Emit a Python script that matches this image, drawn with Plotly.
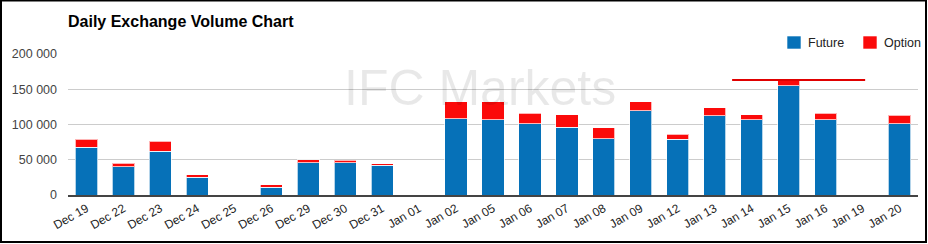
import plotly.graph_objects as go

dates = ["Dec 19", "Dec 22", "Dec 23", "Dec 24", "Dec 25", "Dec 26", "Dec 29", "Dec 30",
         "Dec 31", "Jan 01", "Jan 02", "Jan 05", "Jan 06", "Jan 07", "Jan 08", "Jan 09",
         "Jan 12", "Jan 13", "Jan 14", "Jan 15", "Jan 16", "Jan 19", "Jan 20"]
future = [68000, 40000, 62000, 25000, 0, 11000, 45500, 46000,
          42500, 0, 108500, 106500, 101000, 96000, 79500, 119500,
          79000, 112500, 107000, 155000, 107000, 0, 101000]
option = [11000, 5300, 14500, 3600, 0, 3800, 4600, 3200,
          1900, 0, 23800, 26000, 14700, 17500, 16000, 12800,
          7000, 11000, 7000, 7500, 9000, 0, 12400]
y_ticks = [0, 50000, 100000, 150000, 200000]
series_names = ["Future", "Option"]
series_colors = ["#0671b8", "#fb0a0a"]
marker_line_value = 163000
marker_line_span = [17.47, 21.07]

FONT = "Arial, Liberation Sans, sans-serif"
L, R, T, B = 68, 10, 54, 49
W, H = 928, 244
pw, ph = W - L - R, H - T - B


def px_x(x):
    return (x - L) / pw


def px_y(y):
    return (H - B - y) / ph


fig = go.Figure()
for name, vals, col in zip(series_names, [future, option], series_colors):
    fig.add_trace(go.Bar(x=dates, y=vals, name=name, marker_color=col,
                         marker_line=dict(color="rgba(255,255,255,0.7)", width=1)))

fig.update_layout(
    width=W, height=H, barmode="stack", bargap=0.4,
    margin=dict(l=L, r=R, t=T, b=B),
    paper_bgcolor="white", plot_bgcolor="white",
    separators=". ",
    font=dict(family=FONT, size=12, color="#222"),
    title=dict(text="<b>Daily Exchange Volume Chart</b>", x=L / W, xanchor="left",
               y=1 - 21 / H, yanchor="middle", font=dict(size=16, color="#000")),
    showlegend=False,
    xaxis=dict(type="category", tickangle=-30, showgrid=False, showline=True,
               linecolor="#444", linewidth=2, ticks="", tickfont=dict(size=12, color="#222")),
    yaxis=dict(range=[0, 200000], tickvals=y_ticks, tickformat=",d", showgrid=True,
               gridcolor="#cccccc", gridwidth=1, zeroline=False, ticks="",
               tickfont=dict(size=12.5, color="#444"), ticklabelstandoff=10),
)

# manual legend
legend_sq_x = [787, 863]
for name, col, sx in zip(series_names, series_colors, legend_sq_x):
    fig.add_shape(type="rect", xref="paper", yref="paper",
                  x0=px_x(sx), x1=px_x(sx + 14), y0=px_y(49), y1=px_y(36),
                  fillcolor=col, line=dict(color="rgba(255,255,255,0.6)", width=1))
    fig.add_annotation(text=name, xref="paper", yref="paper", x=px_x(sx + 19), y=px_y(42.5),
                       xanchor="left", yanchor="middle", showarrow=False,
                       font=dict(family=FONT, size=12.5, color="#222"))

fig.add_annotation(text="IFC Markets", xref="paper", yref="paper", x=px_x(480),
                   y=px_y(88), xanchor="center", yanchor="middle", showarrow=False,
                   font=dict(family=FONT, size=50, color="rgba(0,0,0,0.09)"))

fig.add_shape(type="line", xref="x", yref="y", x0=marker_line_span[0], x1=marker_line_span[1],
              y0=marker_line_value, y1=marker_line_value, line=dict(color="#e00000", width=2))

fig.add_shape(type="rect", xref="paper", yref="paper",
              x0=px_x(1), x1=px_x(926), y0=px_y(242), y1=px_y(0.5),
              line=dict(color="#000", width=2), fillcolor="rgba(0,0,0,0)")

fig.write_html("out.html")
